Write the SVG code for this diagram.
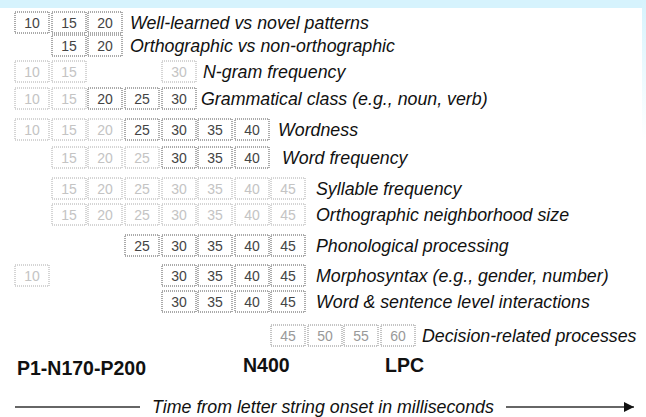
<svg xmlns="http://www.w3.org/2000/svg" width="646" height="417" viewBox="0 0 646 417">
<style>
.bx rect{fill:#fff;stroke-width:1;stroke-dasharray:1 1}
.bx text{font-family:"Liberation Sans",Arial,sans-serif;font-size:14px;text-anchor:middle}
.d rect{stroke:#555}.d text{fill:#444}
.l rect{stroke:#aaa}.l text{fill:#c4c4c4}
.m rect{stroke:#888}.m text{fill:#999}
.lab{font-family:"Liberation Sans",Arial,sans-serif;font-size:17.8px;font-style:italic;fill:#111}
.erp{font-family:"Liberation Sans",Arial,sans-serif;font-size:19.5px;font-weight:bold;fill:#111}
</style>
<defs>
<linearGradient id="rs" x1="0" y1="0" x2="0" y2="1"><stop offset="0" stop-color="#d6f3fd"/><stop offset="1" stop-color="#ffffff"/></linearGradient>
<marker id="ah" viewBox="0 0 10 10" refX="10" refY="5" markerWidth="10" markerHeight="10" markerUnits="userSpaceOnUse" orient="auto"><path d="M0,0 L10,5 L0,10 z" fill="#111"/></marker>
</defs>
<rect x="0" y="0" width="646" height="417" fill="#fff"/>
<rect x="0" y="0" width="646" height="8" fill="#d6f3fd"/>
<rect x="642" y="0" width="4" height="140" fill="url(#rs)"/>

<g id="row1"><g class="bx d"><rect x="15" y="12" width="34" height="21"/><text x="32" y="27.5">10</text><rect x="52" y="12" width="34" height="21"/><text x="69" y="27.5">15</text><rect x="88" y="12" width="34" height="21"/><text x="105" y="27.5">20</text></g><text class="lab" x="130" y="28.5">Well-learned vs novel patterns</text></g>

<g id="row2"><g class="bx d"><rect x="52" y="35" width="34" height="21"/><text x="69" y="50.5">15</text><rect x="88" y="35" width="34" height="21"/><text x="105" y="50.5">20</text></g><text class="lab" x="130" y="51.5">Orthographic vs non-orthographic</text></g>

<g id="row3"><g class="bx l"><rect x="15" y="61" width="34" height="21"/><text x="32" y="76.5">10</text><rect x="52" y="61" width="34" height="21"/><text x="69" y="76.5">15</text><rect x="162" y="61" width="34" height="21"/><text x="179" y="76.5">30</text></g><text class="lab" x="203" y="77.5">N-gram frequency</text></g>

<g id="row4"><g class="bx l"><rect x="15" y="88" width="34" height="21"/><text x="32" y="103.5">10</text><rect x="52" y="88" width="34" height="21"/><text x="69" y="103.5">15</text></g><g class="bx d"><rect x="88" y="88" width="34" height="21"/><text x="105" y="103.5">20</text><rect x="125" y="88" width="34" height="21"/><text x="142" y="103.5">25</text><rect x="162" y="88" width="34" height="21"/><text x="179" y="103.5">30</text></g><text class="lab" x="201" y="104.5">Grammatical class (e.g., noun, verb)</text></g>

<g id="row5"><g class="bx l"><rect x="15" y="119" width="34" height="21"/><text x="32" y="134.5">10</text><rect x="52" y="119" width="34" height="21"/><text x="69" y="134.5">15</text><rect x="88" y="119" width="34" height="21"/><text x="105" y="134.5">20</text></g><g class="bx d"><rect x="125" y="119" width="34" height="21"/><text x="142" y="134.5">25</text><rect x="162" y="119" width="34" height="21"/><text x="179" y="134.5">30</text><rect x="198" y="119" width="34" height="21"/><text x="215" y="134.5">35</text><rect x="235" y="119" width="34" height="21"/><text x="252" y="134.5">40</text></g><text class="lab" x="278" y="135.5">Wordness</text></g>

<g id="row6"><g class="bx l"><rect x="52" y="147" width="34" height="21"/><text x="69" y="162.5">15</text><rect x="88" y="147" width="34" height="21"/><text x="105" y="162.5">20</text><rect x="125" y="147" width="34" height="21"/><text x="142" y="162.5">25</text></g><g class="bx d"><rect x="162" y="147" width="34" height="21"/><text x="179" y="162.5">30</text><rect x="198" y="147" width="34" height="21"/><text x="215" y="162.5">35</text><rect x="235" y="147" width="34" height="21"/><text x="252" y="162.5">40</text></g><text class="lab" x="282" y="163.5">Word frequency</text></g>

<g id="row7"><g class="bx l"><rect x="52" y="178" width="34" height="21"/><text x="69" y="193.5">15</text><rect x="88" y="178" width="34" height="21"/><text x="105" y="193.5">20</text><rect x="125" y="178" width="34" height="21"/><text x="142" y="193.5">25</text><rect x="162" y="178" width="34" height="21"/><text x="179" y="193.5">30</text><rect x="198" y="178" width="34" height="21"/><text x="215" y="193.5">35</text><rect x="235" y="178" width="34" height="21"/><text x="252" y="193.5">40</text><rect x="271" y="178" width="34" height="21"/><text x="288" y="193.5">45</text></g><text class="lab" x="316" y="194.5">Syllable frequency</text></g>

<g id="row8"><g class="bx l"><rect x="52" y="204" width="34" height="21"/><text x="69" y="219.5">15</text><rect x="88" y="204" width="34" height="21"/><text x="105" y="219.5">20</text><rect x="125" y="204" width="34" height="21"/><text x="142" y="219.5">25</text><rect x="162" y="204" width="34" height="21"/><text x="179" y="219.5">30</text><rect x="198" y="204" width="34" height="21"/><text x="215" y="219.5">35</text><rect x="235" y="204" width="34" height="21"/><text x="252" y="219.5">40</text><rect x="271" y="204" width="34" height="21"/><text x="288" y="219.5">45</text></g><text class="lab" x="316" y="220.5">Orthographic neighborhood size</text></g>

<g id="row9"><g class="bx d"><rect x="125" y="235" width="34" height="21"/><text x="142" y="250.5">25</text><rect x="162" y="235" width="34" height="21"/><text x="179" y="250.5">30</text><rect x="198" y="235" width="34" height="21"/><text x="215" y="250.5">35</text><rect x="235" y="235" width="34" height="21"/><text x="252" y="250.5">40</text><rect x="271" y="235" width="34" height="21"/><text x="288" y="250.5">45</text></g><text class="lab" x="316" y="251.5">Phonological processing</text></g>

<g id="row10"><g class="bx l"><rect x="15" y="265" width="34" height="21"/><text x="32" y="280.5">10</text></g><g class="bx d"><rect x="162" y="265" width="34" height="21"/><text x="179" y="280.5">30</text><rect x="198" y="265" width="34" height="21"/><text x="215" y="280.5">35</text><rect x="235" y="265" width="34" height="21"/><text x="252" y="280.5">40</text><rect x="271" y="265" width="34" height="21"/><text x="288" y="280.5">45</text></g><text class="lab" x="316" y="281.5">Morphosyntax (e.g., gender, number)</text></g>

<g id="row11"><g class="bx d"><rect x="162" y="291" width="34" height="21"/><text x="179" y="306.5">30</text><rect x="198" y="291" width="34" height="21"/><text x="215" y="306.5">35</text><rect x="235" y="291" width="34" height="21"/><text x="252" y="306.5">40</text><rect x="271" y="291" width="34" height="21"/><text x="288" y="306.5">45</text></g><text class="lab" x="316" y="307.5">Word &amp; sentence level interactions</text></g>

<g id="row12"><g class="bx m"><rect x="271" y="325" width="34" height="21"/><text x="288" y="340.5">45</text><rect x="308" y="325" width="34" height="21"/><text x="325" y="340.5">50</text><rect x="344" y="325" width="34" height="21"/><text x="361" y="340.5">55</text><rect x="381" y="325" width="34" height="21"/><text x="398" y="340.5">60</text></g><text class="lab" x="422" y="341.5">Decision-related processes</text></g>

<g id="erp"><text class="erp" x="17" y="375">P1-N170-P200</text><text class="erp" x="243" y="372">N400</text><text class="erp" x="385" y="372">LPC</text></g>

<g id="connectors"><line x1="15" y1="407" x2="140" y2="407" stroke="#333" stroke-width="1.5"/><line x1="506" y1="407" x2="634" y2="407" stroke="#333" stroke-width="1.5" marker-end="url(#ah)"/></g>
<text class="lab" x="323" y="413" text-anchor="middle">Time from letter string onset in milliseconds</text>
</svg>
